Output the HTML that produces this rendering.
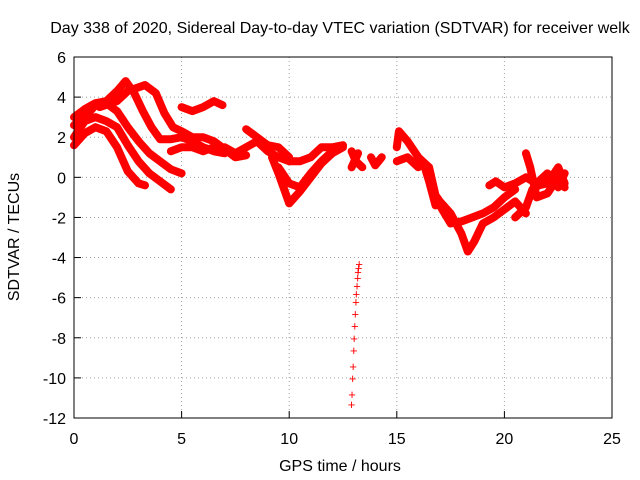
<!DOCTYPE html>
<html><head><meta charset="utf-8"><style>
body{margin:0;background:#fff}
svg{display:block;font-family:"Liberation Sans",sans-serif;font-size:16px}
</style></head><body>
<svg id="chart" width="640" height="480" viewBox="0 0 640 480">
<rect width="640" height="480" fill="#fff"/>
<text x="340" y="33" text-anchor="middle">Day 338 of 2020, Sidereal Day-to-day VTEC variation (SDTVAR) for receiver welk</text>
<g id="grid"></g>
<g id="ticks"></g>
<g id="series"></g>
<rect x="74" y="57" width="538" height="361" fill="none" stroke="#000" stroke-width="1"/>
<text x="340" y="471" text-anchor="middle">GPS time / hours</text>
<text x="0" y="0" transform="translate(19,237) rotate(-90)" text-anchor="middle">SDTVAR / TECUs</text>
</svg>
<script>
const xTicks=[0,5,10,15,20,25];
const yTicks=[6,4,2,0,-2,-4,-6,-8,-10,-12];
const tracks=[
[[0,1.6],[0.5,2.2],[1,2.5],[1.5,2.3],[2,1.5],[2.5,0.3],[3,-0.3],[3.3,-0.4]],
[[0,2.0],[0.5,2.8],[1,3.0],[1.5,2.8],[2,2.5],[2.5,1.6],[3,0.8],[3.5,0.2],[4,-0.2],[4.5,-0.6]],
[[0,2.6],[0.5,3.0],[1,3.6],[1.5,3.7],[2,3.3],[2.5,2.5],[3,1.8],[3.5,1.2],[4,0.8],[4.5,0.4],[5,0.2]],
[[0,3.0],[0.5,3.4],[1,3.7],[1.5,3.8],[2,4.3],[2.4,4.8],[2.8,4.2],[3.2,3.3],[3.6,2.5],[4,1.9],[4.5,1.9],[5,2.0],[5.5,1.8],[6,1.5],[6.5,1.3],[7,1.2]],
[[1.2,3.5],[2,3.8],[2.5,4.3],[3.3,4.6],[3.8,4.2],[4.2,3.2],[4.6,2.5],[5,2.3],[5.5,2.0],[6,2.0],[6.5,1.8],[7,1.4]],
[[5,3.5],[5.5,3.3],[6,3.5],[6.5,3.8],[6.9,3.6]],
[[4.5,1.3],[5,1.5],[5.5,1.5],[6,1.3],[6.5,1.5],[7,1.4],[7.5,1.0],[8,1.1]],
[[7,1.5],[7.5,1.2],[8,1.5],[8.5,1.8],[9,1.3],[9.5,1.0],[10,0.8],[10.5,0.8],[11,1.0],[11.5,1.5],[12,1.5],[12.5,1.6]],
[[8,2.4],[8.5,2.0],[9,1.6],[9.5,1.5],[10,1.0]],
[[9.2,1.0],[9.5,0.2],[10,-1.3],[10.5,-0.7],[11,0],[11.5,0.7],[12,1.2],[12.5,1.5]],
[[9.5,0.5],[10,-0.3],[10.5,-0.5],[11,0.2],[11.5,0.8],[12,1.3]],
[[12.9,1.3],[13.1,0.8],[13.4,0.5]],
[[12.9,0.5],[13.2,1.2]],
[[13.8,1.0],[14.0,0.6],[14.3,1.0]],
[[15,1.5],[15.1,2.3],[15.5,1.8],[16,1],[16.3,0.7],[16.5,0.5]],
[[15,0.8],[15.5,1.0],[16,0.5]],
[[16.5,0.5],[16.8,-0.9],[17,-1.2],[17.5,-1.8],[18,-2.8],[18.3,-3.7],[18.6,-3.2],[19,-2.3],[19.5,-2.0],[20,-1.6],[20.5,-1.2],[21,-1.8]],
[[17,-1.4],[17.5,-2.3],[18,-2.2],[18.5,-2.0],[19,-1.8],[19.5,-1.5],[20,-1.0],[20.5,-0.6]],
[[19.3,-0.4],[19.6,-0.2],[20,-0.5],[20.5,-0.3],[21,0],[21.5,-0.3],[22,0.2],[22.5,-0.5],[22.8,0.2]],
[[21,1.2],[21.2,0.5],[21.5,-1.0],[22,-0.8],[22.5,0],[22.8,-0.5]],
[[20.5,-2.0],[21,-1.5],[21.3,-0.6],[21.6,-0.4],[22,-0.3],[22.5,0.5],[22.8,-0.3]],
[[16.3,0.5],[16.5,-0.2],[16.8,-1.4]]
];
const spikeTimes=[12.9,12.92,12.95,12.97,13,13.02,13.05,13.07,13.1,13.12,13.15,13.18,13.2,13.22,13.25];
const spikeValues=[-11.3,-10.8,-10.0,-9.4,-8.6,-8.0,-7.4,-6.8,-6.2,-5.8,-5.4,-5.0,-4.7,-4.5,-4.3];
const NS='http://www.w3.org/2000/svg';
const X=v=>74+v*(538/25);
const Y=v=>57+(6-v)*(361/18);
const grid=document.getElementById('grid'),ticks=document.getElementById('ticks'),ser=document.getElementById('series');
function mk(tag,attrs,parent){const e=document.createElementNS(NS,tag);for(const k in attrs)e.setAttribute(k,attrs[k]);parent.appendChild(e);return e;}
xTicks.forEach(t=>{
 const gl=mk('line',{x1:X(t),x2:X(t),y1:57,y2:418,stroke:'#a0a0a0','stroke-dasharray':'1,3'},grid);
 
 
 const tk=mk('line',{x1:X(t),x2:X(t),y1:418,y2:411,stroke:'#000'},ticks);
 
 
 const tl=mk('text',{x:X(t),y:444,'text-anchor':'middle'},ticks);tl.textContent=t;
 
 
});
yTicks.forEach(t=>{
 const gl=mk('line',{x1:74,x2:612,y1:Y(t),y2:Y(t),stroke:'#a0a0a0','stroke-dasharray':'1,3'},grid);
 
 
 const tk=mk('line',{x1:74,x2:81,y1:Y(t),y2:Y(t),stroke:'#000'},ticks);
 
 
 const tl=mk('text',{x:66,y:Y(t)+6,'text-anchor':'end'},ticks);tl.textContent=t;
 
 
});
tracks.forEach(tr=>{
 const p=mk('polyline',{points:tr.map(d=>X(d[0])+','+Y(d[1])).join(' '),fill:'none',stroke:'#ff0000','stroke-width':8,'stroke-linejoin':'round','stroke-linecap':'round'},ser);
 
 
});
spikeTimes.forEach((t,i)=>{
 const m=mk('text',{x:X(t),y:Y(spikeValues[i])+5,'text-anchor':'middle',fill:'#ff0000','font-size':'13px'},ser);
 m.textContent='+';
 
 
});
</script>
</body></html>
